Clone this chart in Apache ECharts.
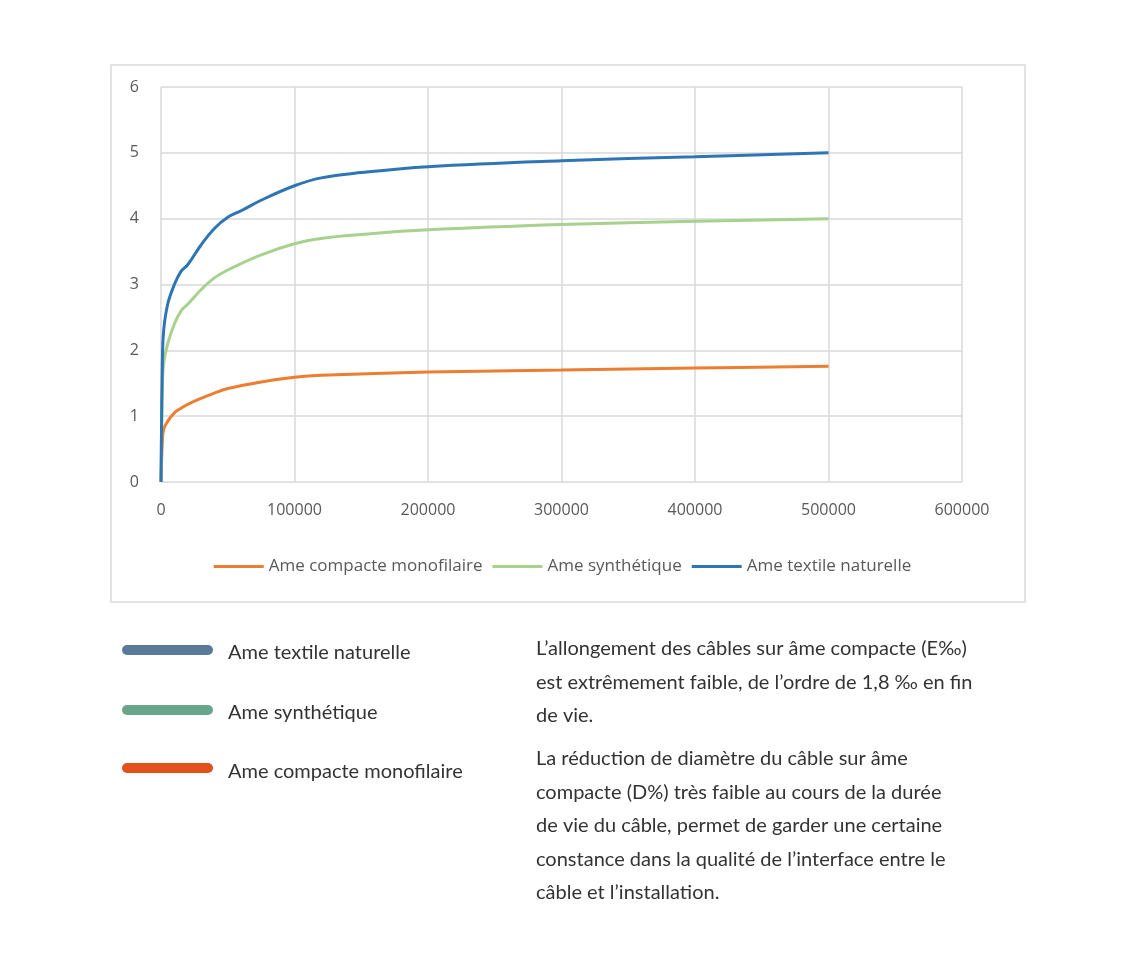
<!DOCTYPE html>
<html><head><meta charset="utf-8">
<script src="https://cdn.jsdelivr.net/npm/echarts@6/dist/echarts.min.js"></script>
<style>body{margin:0;background:#fff}#c{width:1125px;height:958px}</style>
</head><body><div id="c"></div>
<script>
// values
const xTextile = [0, 1000, 2000, 5000, 10000, 15000, 20000, 30000, 40000, 50000, 60000, 75000, 100000, 120000, 150000, 200000, 300000, 400000, 500000];
const yTextile = [0, 1.8, 2.3, 2.7, 3.0, 3.2, 3.3, 3.6, 3.85, 4.02, 4.12, 4.28, 4.5, 4.62, 4.7, 4.79, 4.88, 4.94, 5.0];
const xSynth = [0, 1000, 2000, 5000, 10000, 15000, 20000, 30000, 40000, 50000, 75000, 100000, 120000, 150000, 200000, 300000, 400000, 500000];
const ySynth = [0, 1.4, 1.8, 2.1, 2.4, 2.6, 2.7, 2.92, 3.1, 3.22, 3.45, 3.62, 3.7, 3.76, 3.83, 3.91, 3.96, 4.0];
const xCompact = [0, 1000, 2000, 5000, 10000, 15000, 20000, 30000, 40000, 50000, 75000, 100000, 120000, 200000, 300000, 400000, 500000];
const yCompact = [0, 0.6, 0.8, 0.92, 1.05, 1.12, 1.18, 1.27, 1.35, 1.42, 1.52, 1.59, 1.62, 1.67, 1.7, 1.73, 1.76];

const zip = (xs, ys) => xs.map((x, i) => [x, ys[i]]);
const chart = echarts.init(document.getElementById("c"));
const txt = { fontFamily: "Lato", fontSize: 20, fill: "#333", lineHeight: 33.5 };

chart.setOption({
    animation: false,
    grid: { left: 161, right: 163, top: 87, bottom: 476 },
    xAxis: {
        type: "value", min: 0, max: 600000, interval: 100000,
        axisLine: { show: false }, axisTick: { show: false },
        splitLine: { show: true, lineStyle: { color: "#d9d9d9", width: 1.5 } },
        axisLabel: { color: "#595959", fontSize: 16, margin: 20, fontFamily: "Open Sans", formatter: (v) => String(v) }
    },
    yAxis: {
        type: "value", min: 0, max: 6, interval: 1,
        axisLine: { show: false }, axisTick: { show: false },
        splitLine: { lineStyle: { color: "#d9d9d9", width: 1.5 } },
        axisLabel: { color: "#595959", fontSize: 16, margin: 22, fontFamily: "Open Sans" }
    },
    legend: {
        top: 553, left: "center", itemWidth: 50, itemHeight: 3, itemGap: 10,
        icon: "rect",
        textStyle: { color: "#595959", fontSize: 17, fontFamily: "Open Sans" }
    },
    series: [
        { name: "Ame compacte monofilaire", type: "line", data: zip(xCompact, yCompact), smooth: 0.4, symbol: "none", lineStyle: { width: 3, color: "#ED7D31" }, itemStyle: { color: "#ED7D31" } },
        { name: "Ame synthétique", type: "line", data: zip(xSynth, ySynth), smooth: 0.4, symbol: "none", lineStyle: { width: 3, color: "#A9D18E" }, itemStyle: { color: "#A9D18E" } },
        { name: "Ame textile naturelle", type: "line", data: zip(xTextile, yTextile), smooth: 0.4, symbol: "none", lineStyle: { width: 3, color: "#2E75B6" }, itemStyle: { color: "#2E75B6" } }
    ],
    graphic: [
        { type: "rect", shape: { x: 111, y: 65, width: 914, height: 537 }, style: { fill: "none", stroke: "#d9d9d9", lineWidth: 1.5 } },
        { type: "line", shape: { x1: 127, y1: 650, x2: 208, y2: 650 }, style: { stroke: "#5b7a99", lineWidth: 10, lineCap: "round" } },
        { type: "line", shape: { x1: 127, y1: 710, x2: 208, y2: 710 }, style: { stroke: "#68a68c", lineWidth: 10, lineCap: "round" } },
        { type: "line", shape: { x1: 127, y1: 768, x2: 208, y2: 768 }, style: { stroke: "#e2501c", lineWidth: 10, lineCap: "round" } },
        { type: "text", left: 228, top: 636, style: Object.assign({ text: "Ame textile naturelle" }, txt) },
        { type: "text", left: 228, top: 696, style: Object.assign({ text: "Ame synthétique" }, txt) },
        { type: "text", left: 228, top: 755, style: Object.assign({ text: "Ame compacte monofilaire" }, txt) },
        { type: "text", left: 536, top: 632, style: Object.assign({ text: "L’allongement des câbles sur âme compacte (E‰)\nest extrêmement faible, de l’ordre de 1,8 ‰ en fin\nde vie." }, txt) },
        { type: "text", left: 536, top: 742, style: Object.assign({ text: "La réduction de diamètre du câble sur âme\ncompacte (D%) très faible au cours de la durée\nde vie du câble, permet de garder une certaine\nconstance dans la qualité de l’interface entre le\ncâble et l’installation." }, txt) }
    ]
});
</script></body></html>
